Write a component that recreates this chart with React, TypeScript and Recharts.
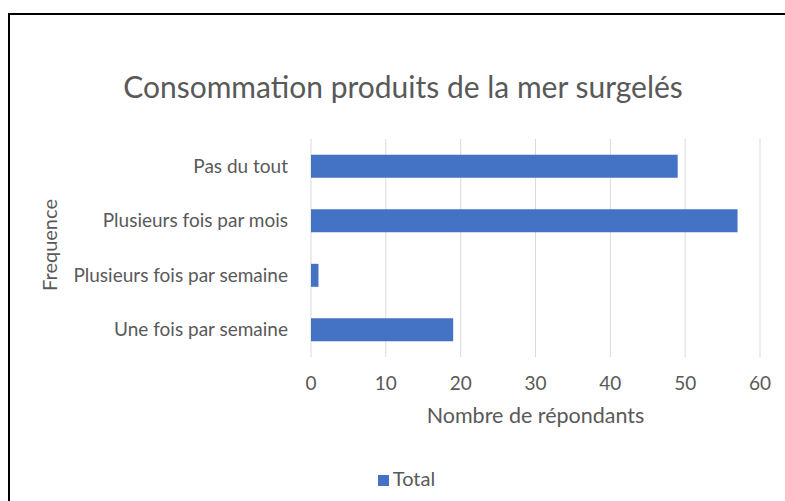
import { Bar, BarChart, CartesianGrid, Legend, XAxis, YAxis } from "recharts";

const categories = ["Pas du tout", "Plusieurs fois par mois", "Plusieurs fois par semaine", "Une fois par semaine"];
const totals = [49, 57, 1, 19];
const xTicks = [0, 10, 20, 30, 40, 50, 60];

const data = categories.map((name, i) => ({ name, Total: totals[i] }));

const FONT = "Lato, 'Liberation Sans', sans-serif";
const GREY = "#595959";

function YLabel(props: any) {
  const vb = props.viewBox || {};
  const cx = vb.x + 39;
  const cy = vb.y + vb.height / 2 - 3;
  return (
    <text x={cx} y={cy} transform={`rotate(-90, ${cx}, ${cy})`} textAnchor="middle" dominantBaseline="central"
      fill={GREY} fontSize={20} fontFamily={FONT}>
      Frequence
    </text>
  );
}

export default function App() {
  return (
    <div style={{ position: "absolute", left: 8, top: 13, width: 777, height: 488, boxSizing: "border-box",
      borderLeft: "2px solid #000", borderTop: "2px solid #000", background: "#fff" }}>
      <div style={{ position: "absolute", left: 0, width: 786, top: 53, textAlign: "center", fontFamily: FONT,
        fontSize: 30, color: GREY, whiteSpace: "nowrap" }}>
        Consommation produits de la mer surgelés
      </div>
      <BarChart width={775} height={486} data={data} layout="vertical" barCategoryGap="29%"
        margin={{ top: 124, right: 25, bottom: 90, left: 0 }}>
        <CartesianGrid horizontal={false} vertical stroke="#D9D9D9" strokeWidth={1} />
        <XAxis type="number" domain={[0, 60]} ticks={xTicks} axisLine={false} tickLine={false} tickSize={0}
          tickMargin={20} height={30} tick={{ fill: GREY, fontSize: 19, fontFamily: FONT }}
          label={{ value: "Nombre de répondants", position: "bottom", offset: 21, fill: GREY, fontSize: 21.5, fontFamily: FONT }} />
        <YAxis type="category" dataKey="name" width={301} axisLine={false} tickLine={false} tickSize={0}
          tickMargin={23} tick={{ fill: GREY, fontSize: 19, fontFamily: FONT }} label={YLabel} />
        <Legend verticalAlign="bottom" iconType="square" iconSize={11} height={24}
          wrapperStyle={{ top: 451, bottom: "auto", left: 14, width: 775, fontFamily: FONT, fontSize: 20 }}
          formatter={(v: string) => <span style={{ color: GREY }}>{v}</span>} />
        <Bar dataKey="Total" fill="#4472C4" isAnimationActive={false} />
      </BarChart>
    </div>
  );
}
